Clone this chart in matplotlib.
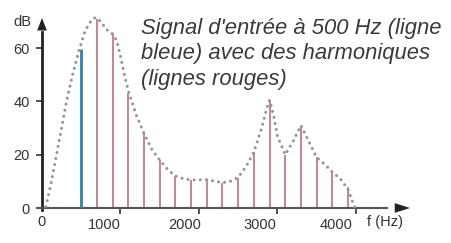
import matplotlib
matplotlib.use("Agg")
import matplotlib.pyplot as plt
from matplotlib.transforms import ScaledTranslation

# --- data ---
fundamental_freq = [500]
fundamental_db = [59.5]
harmonic_freqs = [700, 900, 1100, 1300, 1500, 1700, 1900, 2100, 2300, 2500,
                  2700, 2900, 3100, 3300, 3500, 3700, 3900]
harmonic_db = [71, 65.7, 43, 28, 18, 12.1, 10.5, 10.7, 9.5, 11.4,
               21.1, 40, 19.9, 30.9, 19, 13.4, 7.8]
envelope_freq = [50, 120, 185, 250, 312, 390, 470, 550, 620, 680, 750, 820,
                 880, 950, 1000, 1050, 1100, 1200, 1300, 1400, 1500, 1600,
                 1700, 1800, 1900, 2100, 2300, 2400, 2500, 2600, 2700, 2800,
                 2870, 2900, 2950, 3000, 3100, 3200, 3300, 3400, 3500, 3600,
                 3700, 3800, 3900, 3950, 3990]
envelope_db = [0.5, 10, 20, 30, 40, 50, 59, 66.5, 70, 71.5, 70, 67,
               66, 63, 57, 50, 44, 35, 28, 22, 18, 14.5,
               12, 11, 10.5, 10.6, 9.5, 10, 11.5, 15.5, 21, 30,
               38, 40.5, 35, 27, 20, 25, 31, 25, 19, 16.5,
               13.5, 11, 7, 3, 0]
xticks = [0, 1000, 2000, 3000, 4000]
xtick_labels = ["0", "1000", "2000", "3000", "4000"]
yticks = [0, 20, 40, 60]
ytick_labels = ["0", "20", "40", "60"]
annotation = "Signal d'entrée à 500 Hz (ligne\nbleue) avec des harmoniques\n(lignes rouges)"

W, H = 451, 243
fig = plt.figure(figsize=(W / 100, H / 100), dpi=100)
plt.rcParams['font.family'] = ['Liberation Sans', 'DejaVu Sans']
ax = fig.add_axes([42 / W, 35 / H, (410 - 42) / W, (208 - 18) / H])
ax.set_xlim(0, 4690)
ax.set_ylim(0, 71.3)

red = '#c47c84'
blue = '#2f7fb3'
ax.vlines(harmonic_freqs, 0, harmonic_db, color=red, lw=1.3, zorder=2)
ax.vlines(fundamental_freq, 0, fundamental_db, color=blue, lw=2.0, zorder=3)
ax.plot(envelope_freq, envelope_db, color='#959595', lw=2.2,
        linestyle=(0, (0.01, 2.0)), dash_capstyle='round', zorder=4,
        clip_on=False)

for s in ['top', 'right']:
    ax.spines[s].set_visible(False)
ax.spines['left'].set_linewidth(2.0)
ax.spines['left'].set_color('#222222')
ax.spines['bottom'].set_linewidth(1.5)
ax.spines['bottom'].set_color('#555555')
ax.spines['left'].set_bounds(-0.8, 66)
ax.spines['bottom'].set_bounds(-60, 4400)

# arrowheads
ax.annotate('', xy=(0, 1.0), xytext=(0, 0.9), xycoords='axes fraction',
            arrowprops=dict(arrowstyle='-|>,head_length=0.9,head_width=0.35',
                            color='#222222', lw=0, shrinkA=0, shrinkB=0))
ax.annotate('', xy=(1.0, 0), xytext=(0.93, 0), xycoords='axes fraction',
            arrowprops=dict(arrowstyle='-|>,head_length=1.1,head_width=0.35',
                            color='#222222', lw=0, shrinkA=0, shrinkB=0))

ax.set_xticks(xticks[1:])
ax.set_xticklabels(xtick_labels[1:])
ax.set_yticks(yticks)
ax.set_yticklabels(ytick_labels)
ax.tick_params(axis='x', length=4, width=1.2, color='#333333', pad=3,
               labelsize=10.5, labelcolor='#333333')
ax.tick_params(axis='y', length=4, width=1.2, color='#333333', pad=5,
               labelsize=10.5, labelcolor='#333333')
offsets = [-16, -14, -17, -20]
for lab, dx in zip(ax.get_xticklabels(), offsets):
    lab.set_transform(lab.get_transform() + ScaledTranslation(dx / 100, 0, fig.dpi_scale_trans))

# x "0" label
fig.text(42 / W, 1 - 222 / H, xtick_labels[0], ha='center', va='center',
         fontsize=10.5, color='#333333')
fig.text(22 / W, 1 - 22 / H, "dB", ha='center', va='center',
         fontsize=10.5, color='#333333')
fig.text(385 / W, 1 - 222 / H, "f (Hz)", ha='center', va='center',
         fontsize=10.5, color='#333333')

fig.text(141 / W, 1 - 18 / H, annotation, ha='left', va='top', fontsize=15.8,
         style='italic', color='#3a3a3a', linespacing=1.27)

fig.savefig('out.png', dpi=100)
